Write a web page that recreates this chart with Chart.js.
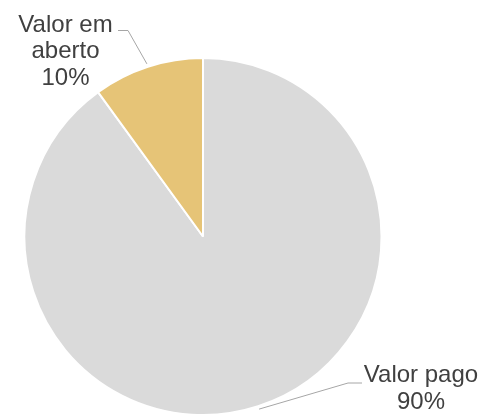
<!DOCTYPE html>
<html>
<head>
<meta charset="utf-8">
<script src="https://cdn.jsdelivr.net/npm/chart.js@4.4.0/dist/chart.umd.min.js"></script>
<style>
  html, body { margin: 0; padding: 0; background: #fff; }
  #wrap { width: 485px; height: 416px; }
</style>
</head>
<body>
<div id="wrap"><canvas id="pieChart" width="485" height="416"></canvas></div>
<script>
// data
const labelsPie = ['Valor pago', 'Valor em aberto'];
const valuesPie = [90, 10];
const colorsPie = ['#dadada', '#e6c477'];

// label text lines and where to put them (text centre x, first baseline, line height, elbow x's)
const labelLines = [
  ['Valor pago'],
  ['Valor em', 'aberto']
];
const labelBox = [
  { cx: 421, y0: 381.5, lh: 27.5, lineFrom: 362, lineTo: 348, lineY: 383 },
  { cx: 65.5, y0: 31.5, lh: 26.7, lineFrom: 118, lineTo: 128, lineY: 30.5 }
];

const sliceLabels = {
  id: 'sliceLabels',
  afterDraw(chart) {
    const ctx = chart.ctx;
    const meta = chart.getDatasetMeta(0);
    const total = valuesPie.reduce((a, b) => a + b, 0);
    meta.data.forEach((arc, i) => {
      const p = arc.getProps(['x', 'y', 'startAngle', 'endAngle', 'outerRadius'], true);
      const mid = (p.startAngle + p.endAngle) / 2;
      const r = p.outerRadius + 3;
      const ax = p.x + Math.cos(mid) * r;
      const ay = p.y + Math.sin(mid) * r;
      const b = labelBox[i];

      // leader line
      ctx.save();
      ctx.strokeStyle = '#a6a6a6';
      ctx.lineWidth = 1;
      ctx.beginPath();
      ctx.moveTo(b.lineFrom, b.lineY);
      ctx.lineTo(b.lineTo, b.lineY);
      ctx.lineTo(ax, ay);
      ctx.stroke();

      // text
      const lines = labelLines[i].concat([Math.round(valuesPie[i] / total * 100) + '%']);
      ctx.fillStyle = '#404040';
      ctx.font = '24px "Liberation Sans", Arial, sans-serif';
      ctx.textAlign = 'center';
      ctx.textBaseline = 'alphabetic';
      lines.forEach((t, k) => {
        ctx.fillText(t, b.cx, b.y0 + k * b.lh);
      });
      ctx.restore();
    });
  }
};

new Chart(document.getElementById('pieChart'), {
  type: 'pie',
  data: {
    labels: labelsPie,
    datasets: [{
      data: valuesPie,
      backgroundColor: colorsPie,
      borderColor: '#ffffff',
      borderWidth: 2
    }]
  },
  options: {
    responsive: false,
    animation: false,
    layout: { padding: { left: 23, right: 102, top: 57, bottom: 0 } },
    plugins: {
      legend: { display: false },
      tooltip: { enabled: false }
    }
  },
  plugins: [sliceLabels]
});
</script>
</body>
</html>
